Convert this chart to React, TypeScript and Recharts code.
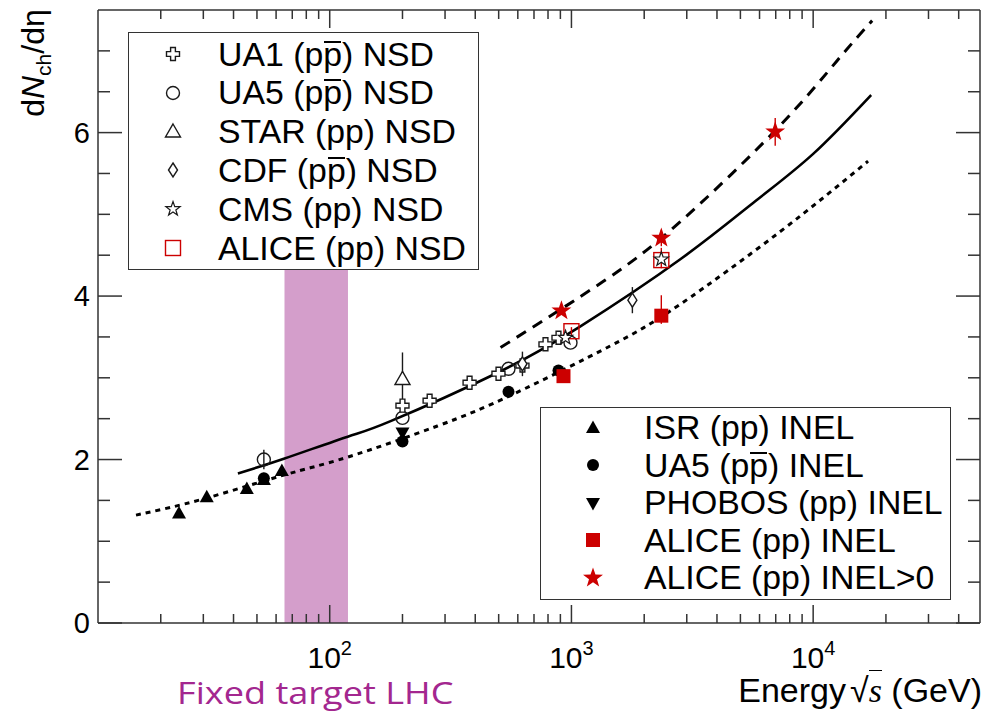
import { ComposedChart, Line, Scatter, XAxis, YAxis, ReferenceArea, ErrorBar } from 'recharts';

const FONT = '"Liberation Sans", Arial, Helvetica, sans-serif';
const RED = '#cc0000';
const INK = '#1a1a1a';
const FRAME = '#333';

// axis setup
const X_DOMAIN = [11, 49000];
const Y_DOMAIN = [0, 7.5];
const X_MAJOR = [100, 1000, 10000];
const X_MAJOR_EXP = ['2', '3', '4'];
const X_TICKS = [
  20, 30, 40, 50, 60, 70, 80, 90, 100,
  200, 300, 400, 500, 600, 700, 800, 900, 1000,
  2000, 3000, 4000, 5000, 6000, 7000, 8000, 9000, 10000,
  20000, 30000, 40000,
];
const Y_MAJOR = [0, 2, 4, 6];
const Y_TICKS = [0, 0.5, 1, 1.5, 2, 2.5, 3, 3.5, 4, 4.5, 5, 5.5, 6, 6.5, 7];

// fixed-target LHC energy range (GeV) and band height
const FT_BAND = [65, 119];
const FT_BAND_TOP = 4.32;

// fit curves: [sqrt(s) GeV, dN/deta]
const NSD_FIT = [
  [41.7, 1.83], [64.6, 2.01], [118.7, 2.28], [178.6, 2.47], [485, 3.05],
  [1089, 3.63], [2821, 4.45], [5757, 5.16], [10000, 5.74], [17370, 6.46],
];
const INEL_GT0_FIT = [
  [509, 3.37], [1356, 4.18], [2821, 4.91], [7100, 6.05], [12560, 6.88], [17540, 7.37],
];
const INEL_FIT = [
  [15.8, 1.32], [30.2, 1.52], [64.6, 1.81], [118.7, 2.03], [279, 2.41],
  [575, 2.8], [1449, 3.39], [2821, 3.9], [7310, 4.79], [16870, 5.65],
];

// measurements: [sqrt(s) GeV, dN/deta, err low, err high]
const UA1_NSD = [
  [200, 2.66, 0, 0], [259, 2.72, 0, 0], [379, 2.94, 0, 0], [499, 3.05, 0, 0],
  [627, 3.15, 0, 0], [781, 3.41, 0, 0], [884, 3.49, 0, 0],
];
const UA5_NSD = [[53.4, 2.0, 0.12, 0.12], [200, 2.51, 0, 0], [549, 3.11, 0, 0], [991, 3.43, 0, 0]];
const STAR_NSD = [[200, 2.98, 0.3, 0.33]];
const CDF_NSD = [[627, 3.17, 0.15, 0.15], [1787, 3.95, 0.16, 0.16]];
const CMS_NSD = [[945, 3.49, 0, 0], [2354, 4.45, 0, 0]];
const ALICE_NSD = [[1000, 3.57, 0.05, 0.05], [2354, 4.44, 0.1, 0.15]];
const ISR_INEL = [[23.8, 1.34, 0, 0], [31.0, 1.54, 0, 0], [45.4, 1.64, 0, 0], [53.4, 1.75, 0, 0], [63.4, 1.86, 0, 0]];
const UA5_INEL = [[53.4, 1.77, 0, 0], [200, 2.22, 0, 0], [549, 2.83, 0, 0], [884, 3.09, 0, 0]];
const PHOBOS_INEL = [[200, 2.33, 0, 0]];
const ALICE_INEL = [[927, 3.02, 0.05, 0.05], [2354, 3.76, 0.1, 0.25]];
const ALICE_INEL_GT0 = [[909, 3.82, 0.05, 0.05], [2354, 4.71, 0.1, 0.1], [6966, 6.01, 0.17, 0.17]];

const curve = (rows: number[][]) => rows.map(([E, v]) => ({ E, v }));
const points = (rows: number[][]) => rows.map(([E, v, lo, hi]) => ({ E, v, err: [lo, hi] }));

type Kind =
  | 'cross' | 'circle' | 'triUp' | 'diamond' | 'starOpen' | 'squareOpen'
  | 'triUpFill' | 'circleFill' | 'triDownFill' | 'squareFill' | 'starFill';

function starPoints(cx: number, cy: number, R: number) {
  const out: string[] = [];
  for (let i = 0; i < 10; i++) {
    const r = i % 2 ? R * 0.4 : R;
    const a = -Math.PI / 2 + (i * Math.PI) / 5;
    out.push(`${cx + r * Math.cos(a)},${cy + r * Math.sin(a)}`);
  }
  return out.join(' ');
}

function Marker({ cx, cy, kind }: { cx: number; cy: number; kind: Kind }) {
  const sw = 1.4;
  switch (kind) {
    case 'cross': {
      const a = 6.5, b = 2.4;
      const p = [
        [-b, -a], [b, -a], [b, -b], [a, -b], [a, b], [b, b],
        [b, a], [-b, a], [-b, b], [-a, b], [-a, -b], [-b, -b],
      ].map(([x, y]) => `${cx + x},${cy + y}`).join(' ');
      return <polygon points={p} fill="#fff" stroke={INK} strokeWidth={sw} />;
    }
    case 'circle':
      return <circle cx={cx} cy={cy} r={6.5} fill="none" stroke={INK} strokeWidth={sw} />;
    case 'triUp':
      return <polygon points={`${cx},${cy - 8} ${cx + 7.5},${cy + 5} ${cx - 7.5},${cy + 5}`} fill="#fff" stroke={INK} strokeWidth={sw} />;
    case 'diamond':
      return <polygon points={`${cx},${cy - 7} ${cx + 4.5},${cy} ${cx},${cy + 7} ${cx - 4.5},${cy}`} fill="#fff" stroke={INK} strokeWidth={sw} />;
    case 'starOpen':
      return <polygon points={starPoints(cx, cy, 7.5)} fill="#fff" stroke={INK} strokeWidth={1.2} />;
    case 'squareOpen':
      return <rect x={cx - 7.5} y={cy - 7.5} width={15} height={15} fill="none" stroke={RED} strokeWidth={sw} />;
    case 'triUpFill':
      return <polygon points={`${cx},${cy - 7.5} ${cx + 7},${cy + 5} ${cx - 7},${cy + 5}`} fill="#000" />;
    case 'circleFill':
      return <circle cx={cx} cy={cy} r={6} fill="#000" />;
    case 'triDownFill':
      return <polygon points={`${cx},${cy + 7.5} ${cx + 7},${cy - 5} ${cx - 7},${cy - 5}`} fill="#000" />;
    case 'squareFill':
      return <rect x={cx - 7} y={cy - 7} width={14} height={14} fill={RED} />;
    case 'starFill':
      return <polygon points={starPoints(cx, cy, 10.5)} fill={RED} />;
  }
  return null;
}

const shapeOf = (kind: Kind) => (p: any) => <Marker cx={p.cx} cy={p.cy} kind={kind} />;

function BottomTick({ x, y, payload }: any) {
  const i = X_MAJOR.indexOf(payload.value);
  const major = i >= 0;
  return (
    <g>
      <line x1={x} y1={y} x2={x} y2={y - (major ? 18 : 9)} stroke={FRAME} strokeWidth={1.5} />
      {major && (
        <text x={x} y={y + 45} textAnchor="middle" fontFamily={FONT} fontSize={30} fill="#000">
          10<tspan dy={-13} fontSize={20}>{X_MAJOR_EXP[i]}</tspan>
        </text>
      )}
    </g>
  );
}

function TopTick({ x, y, payload }: any) {
  const major = X_MAJOR.includes(payload.value);
  return <line x1={x} y1={y} x2={x} y2={y + (major ? 18 : 9)} stroke={FRAME} strokeWidth={1.5} />;
}

function LeftTick({ x, y, payload }: any) {
  const major = Y_MAJOR.includes(payload.value);
  return (
    <g>
      <line x1={x} y1={y} x2={x + (major ? 24 : 12)} y2={y} stroke={FRAME} strokeWidth={1.5} />
      {major && (
        <text x={x - 8} y={y + 10} textAnchor="end" fontFamily={FONT} fontSize={29} fill="#000">
          {payload.value}
        </text>
      )}
    </g>
  );
}

function RightTick({ x, y, payload }: any) {
  const major = Y_MAJOR.includes(payload.value);
  return <line x1={x} y1={y} x2={x - (major ? 24 : 12)} y2={y} stroke={FRAME} strokeWidth={1.5} />;
}

// antiproton "p" with a bar over it
const Pbar = () => (
  <span style={{ position: 'relative', display: 'inline-block', lineHeight: 1 }}>
    p
    <span style={{ position: 'absolute', left: 1, right: 1, top: 3, height: 2, background: '#000' }} />
  </span>
);

const NSD_LEGEND: { kind: Kind; label: React.ReactNode }[] = [
  { kind: 'cross', label: <>UA1 (p<Pbar />) NSD</> },
  { kind: 'circle', label: <>UA5 (p<Pbar />) NSD</> },
  { kind: 'triUp', label: <>STAR (pp) NSD</> },
  { kind: 'diamond', label: <>CDF (p<Pbar />) NSD</> },
  { kind: 'starOpen', label: <>CMS (pp) NSD</> },
  { kind: 'squareOpen', label: <>ALICE (pp) NSD</> },
];
const INEL_LEGEND: { kind: Kind; label: React.ReactNode }[] = [
  { kind: 'triUpFill', label: <>ISR (pp) INEL</> },
  { kind: 'circleFill', label: <>UA5 (p<Pbar />) INEL</> },
  { kind: 'triDownFill', label: <>PHOBOS (pp) INEL</> },
  { kind: 'squareFill', label: <>ALICE (pp) INEL</> },
  { kind: 'starFill', label: <>ALICE (pp) INEL&gt;0</> },
];

function LegendBox({ items, left, top, width, rowH, padTop, symX, textX }: any) {
  return (
    <div style={{
      position: 'absolute', left, top, width, boxSizing: 'border-box',
      border: `1.5px solid ${FRAME}`, background: '#fff', paddingTop: padTop, paddingBottom: 2,
      fontFamily: FONT, fontSize: 33.8, color: '#000',
    }}>
      {items.map((it: any, i: number) => (
        <div key={i} style={{ position: 'relative', height: rowH, lineHeight: `${rowH}px`, whiteSpace: 'nowrap' }}>
          <svg width={26} height={26} style={{ position: 'absolute', left: symX - 13, top: rowH / 2 - 13 }}>
            <Marker cx={13} cy={13} kind={it.kind} />
          </svg>
          <span style={{ position: 'absolute', left: textX }}>{it.label}</span>
        </div>
      ))}
    </div>
  );
}

export default function App() {
  return (
    <div style={{ position: 'absolute', left: 0, top: 0, width: 984, height: 713, background: '#fff' }}>
      <ComposedChart width={984} height={713} margin={{ top: 8, right: 0, bottom: 0, left: 38 }}>
        <XAxis
          type="number" dataKey="E" scale="log" domain={X_DOMAIN} ticks={X_TICKS} interval={0}
          allowDataOverflow height={90} tickLine={false} tickSize={0} tickMargin={0}
          axisLine={{ stroke: FRAME, strokeWidth: 1.5 }} tick={(p: any) => <BottomTick {...p} />}
        />
        <XAxis
          xAxisId="top" orientation="top" type="number" dataKey="E" scale="log" domain={X_DOMAIN}
          ticks={X_TICKS} interval={0} allowDataOverflow height={2} tickLine={false} tickSize={0}
          tickMargin={0} axisLine={{ stroke: FRAME, strokeWidth: 1.5 }} tick={(p: any) => <TopTick {...p} />}
        />
        <YAxis
          type="number" dataKey="v" domain={Y_DOMAIN} ticks={Y_TICKS} interval={0} allowDataOverflow
          width={60} tickLine={false} tickSize={0} tickMargin={0}
          axisLine={{ stroke: FRAME, strokeWidth: 1.5 }} tick={(p: any) => <LeftTick {...p} />}
        />
        <YAxis
          yAxisId="right" orientation="right" type="number" dataKey="v" domain={Y_DOMAIN} ticks={Y_TICKS}
          interval={0} allowDataOverflow width={4} tickLine={false} tickSize={0} tickMargin={0}
          axisLine={{ stroke: FRAME, strokeWidth: 1.5 }} tick={(p: any) => <RightTick {...p} />}
        />

        <Line data={curve(INEL_FIT)} dataKey="v" type="natural" stroke="#000" strokeWidth={3}
          strokeDasharray="5 5" dot={false} isAnimationActive={false} />
        <Line data={curve(NSD_FIT)} dataKey="v" type="natural" stroke="#000" strokeWidth={2.6}
          dot={false} isAnimationActive={false} />
        <Line data={curve(INEL_GT0_FIT)} dataKey="v" type="natural" stroke="#000" strokeWidth={3}
          strokeDasharray="11 8" dot={false} isAnimationActive={false} />

        <ReferenceArea x1={FT_BAND[0]} x2={FT_BAND[1]} y1={0} y2={FT_BAND_TOP}
          fill="#a0288c" fillOpacity={0.45} stroke="none" />

        <Scatter data={points(ISR_INEL)} dataKey="v" shape={shapeOf('triUpFill')} isAnimationActive={false} />
        <Scatter data={points(UA5_NSD)} dataKey="v" shape={shapeOf('circle')} isAnimationActive={false}>
          <ErrorBar dataKey="err" direction="y" width={0} stroke={INK} strokeWidth={1.4} />
        </Scatter>
        <Scatter data={points(UA5_INEL)} dataKey="v" shape={shapeOf('circleFill')} isAnimationActive={false} />
        <Scatter data={points(PHOBOS_INEL)} dataKey="v" shape={shapeOf('triDownFill')} isAnimationActive={false} />
        <Scatter data={points(STAR_NSD)} dataKey="v" shape={shapeOf('triUp')} isAnimationActive={false}>
          <ErrorBar dataKey="err" direction="y" width={0} stroke={INK} strokeWidth={1.4} />
        </Scatter>
        <Scatter data={points(UA1_NSD)} dataKey="v" shape={shapeOf('cross')} isAnimationActive={false} />
        <Scatter data={points(CDF_NSD)} dataKey="v" shape={shapeOf('diamond')} isAnimationActive={false}>
          <ErrorBar dataKey="err" direction="y" width={0} stroke={INK} strokeWidth={1.4} />
        </Scatter>
        <Scatter data={points(ALICE_INEL)} dataKey="v" shape={shapeOf('squareFill')} isAnimationActive={false}>
          <ErrorBar dataKey="err" direction="y" width={0} stroke={RED} strokeWidth={1.4} />
        </Scatter>
        <Scatter data={points(ALICE_NSD)} dataKey="v" shape={shapeOf('squareOpen')} isAnimationActive={false}>
          <ErrorBar dataKey="err" direction="y" width={0} stroke={RED} strokeWidth={1.4} />
        </Scatter>
        <Scatter data={points(CMS_NSD)} dataKey="v" shape={shapeOf('starOpen')} isAnimationActive={false} />
        <Scatter data={points(ALICE_INEL_GT0)} dataKey="v" shape={shapeOf('starFill')} isAnimationActive={false}>
          <ErrorBar dataKey="err" direction="y" width={0} stroke={RED} strokeWidth={1.4} />
        </Scatter>
      </ComposedChart>

      <LegendBox items={NSD_LEGEND} left={128} top={32} width={351} rowH={38.8} padTop={1.6} symX={44} textX={89} />
      <LegendBox items={INEL_LEGEND} left={540} top={407} width={411} rowH={37.5} padTop={1.2} symX={52} textX={103} />

      {/* y-axis title */}
      <div style={{
        position: 'absolute', left: 33, top: 63, transform: 'translate(-50%, -50%) rotate(-90deg)',
        fontFamily: FONT, fontSize: 32, whiteSpace: 'nowrap', lineHeight: 1,
      }}>
        d<i>N</i><span style={{ fontSize: 21, position: 'relative', top: 7 }}>ch</span>/dη
      </div>

      {/* x-axis title */}
      <div style={{
        position: 'absolute', right: 2, top: 673, fontFamily: FONT, fontSize: 34,
        whiteSpace: 'nowrap', lineHeight: 1,
      }}>
        Energy<span style={{ marginLeft: 4 }}>√</span>
        <span style={{ fontFamily: '"Liberation Serif", serif', fontStyle: 'italic', borderTop: '1.5px solid #000', paddingTop: 1 }}>s</span>
        {' '}(GeV)
      </div>

      <div style={{
        position: 'absolute', left: 177, top: 677, fontFamily: '"Open Sans", sans-serif', fontSize: 31,
        color: '#a3278f', whiteSpace: 'nowrap', lineHeight: 1,
        transform: 'scaleX(1.165)', transformOrigin: 'left center',
      }}>
        Fixed target LHC
      </div>
    </div>
  );
}
